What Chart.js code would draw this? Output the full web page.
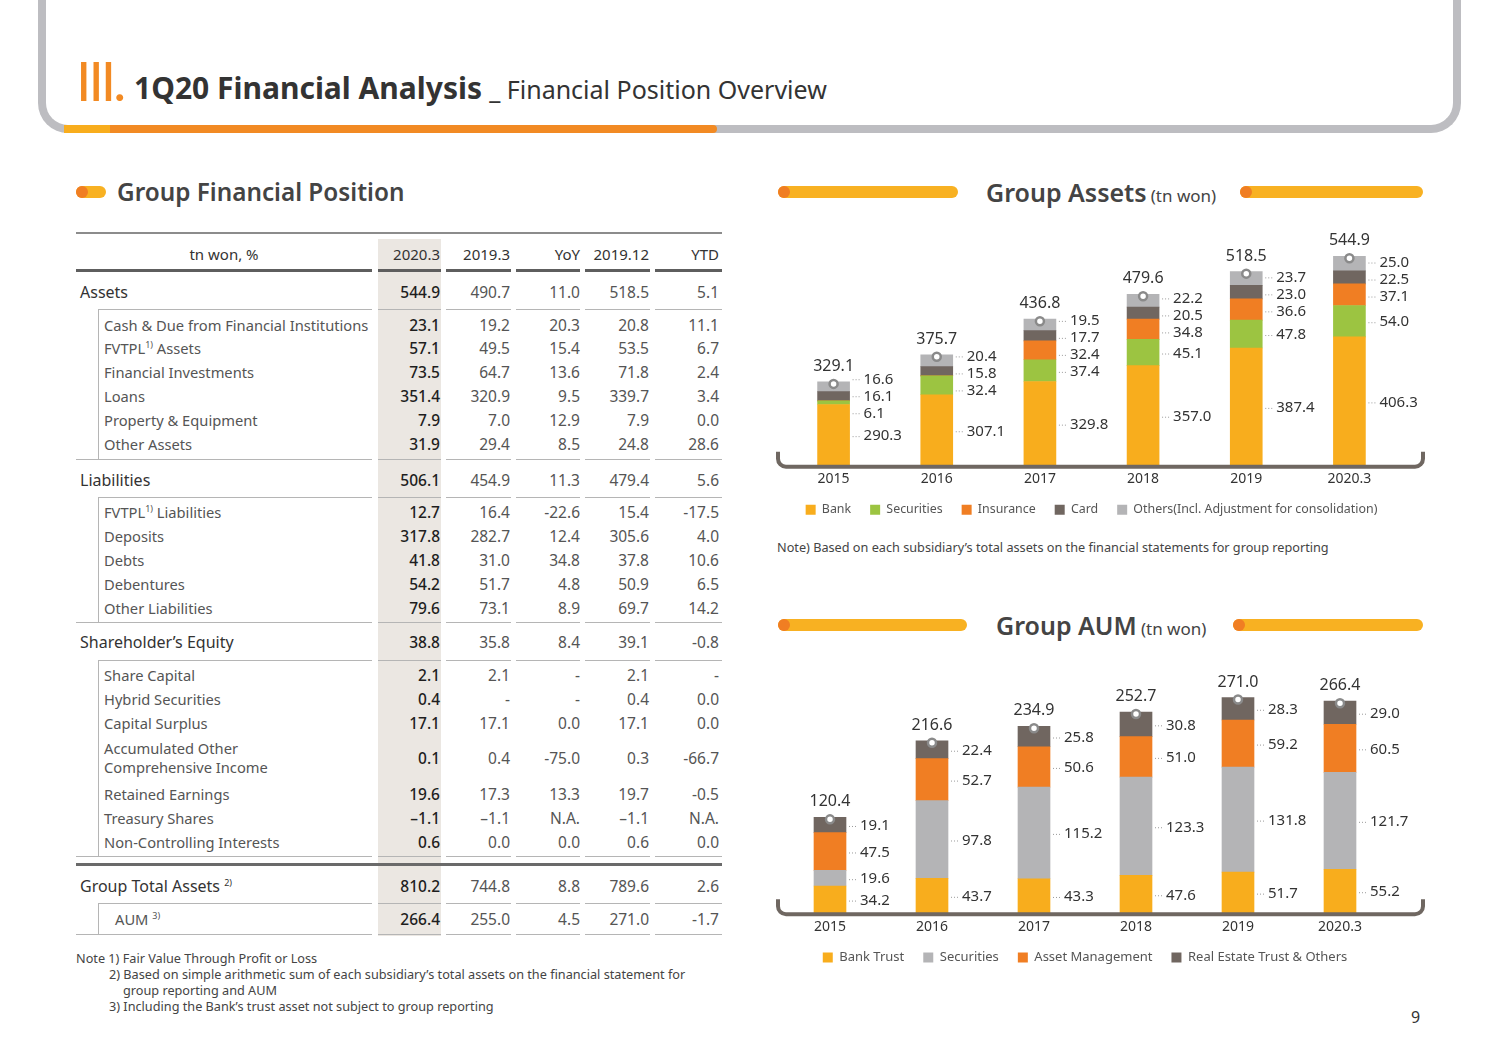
<!DOCTYPE html>
<html>
<head>
<meta charset="utf-8">
<script src="https://cdn.jsdelivr.net/npm/chart.js@4.4.1/dist/chart.umd.min.js"></script>
<style>
  body { margin: 0; width: 1499px; height: 1060px; position: relative; background: #fff; overflow: hidden;
         font-family: "Noto Sans", "Open Sans", sans-serif; color: #333; }
  .abs { position: absolute; white-space: nowrap; }
  sup { font-size: 9px; line-height: 0; position: relative; top: -6px; vertical-align: baseline; }
  .pill { position: absolute; height: 12px; border-radius: 6px; background: #f8b122; }
  .pill::before { content: ""; position: absolute; left: 0; top: 0; width: 12px; height: 12px; border-radius: 6px; background: #f07e23; }
  canvas { position: absolute; }
  .note { position: absolute; white-space: nowrap; font-size: 12.7px; line-height: 16px; color: #444; }
</style>
</head>
<body>

<!-- 상단 헤더 -->
<div class="abs" style="left:38px;top:-20px;width:1407px;height:145px;border:8px solid #bdbdc1;border-top:none;border-radius:0 0 30px 30px;"></div>
<div class="abs" style="left:64px;top:125px;width:653px;height:8px;border-radius:0 4px 4px 0;background:linear-gradient(to right,#f8ad1d 0,#f8ad1d 46px,#f28a23 46px);"></div>
<div class="abs" style="left:76px;top:50px;font-family:Lato,'Noto Sans',sans-serif;font-size:55px;line-height:60px;color:#f28a23;letter-spacing:-3px;">III<span style="letter-spacing:0;">.</span></div>
<div class="abs" style="left:134px;top:68px;line-height:40px;">
  <span style="font-size:30px;font-weight:700;color:#333;">1Q20 Financial Analysis</span>
  <span style="font-size:25px;color:#333;margin-left:3px;">_ Financial Position Overview</span>
</div>

<!-- 섹션 제목 -->
<div class="pill" style="left:76px;top:186px;width:30px;"></div>
<div class="abs" style="left:117px;top:175px;font-size:24.3px;line-height:34px;font-weight:600;color:#444;">Group Financial Position</div>

<div class="pill" style="left:778px;top:186px;width:180px;"></div>
<div class="pill" style="left:1240px;top:186px;width:183px;"></div>
<div class="abs" style="left:986px;top:175px;line-height:34px;color:#444;"><span style="font-size:25px;font-weight:600;">Group Assets</span> <span style="font-size:17px;">(tn won)</span></div>

<div class="pill" style="left:778px;top:619px;width:189px;"></div>
<div class="pill" style="left:1233px;top:619px;width:190px;"></div>
<div class="abs" style="left:996px;top:608px;line-height:34px;color:#444;"><span style="font-size:25px;font-weight:600;">Group AUM</span> <span style="font-size:17px;">(tn won)</span></div>

<div class="note" style="left:777px;top:539px;">Note) Based on each subsidiary’s total assets on the financial statements for group reporting</div>

<div id="table"></div>

<div class="note" style="left:76px;top:950px;">Note 1) Fair Value Through Profit or Loss</div>
<div class="note" style="left:109px;top:966px;">2) Based on simple arithmetic sum of each subsidiary’s total assets on the financial statement for</div>
<div class="note" style="left:123px;top:982px;">group reporting and AUM</div>
<div class="note" style="left:109px;top:998px;">3) Including the Bank’s trust asset not subject to group reporting</div>

<div class="abs" style="left:1411px;top:1006px;font-size:16px;line-height:22px;color:#333;">9</div>

<canvas id="assetsChart" width="660" height="306" style="left:770px;top:220px;"></canvas>
<canvas id="aumChart" width="660" height="314" style="left:770px;top:660px;"></canvas>

<script>
// 표 데이터
const colHeaders = ["2020.3", "2019.3", "YoY", "2019.12", "YTD"];
const rowLabels = ["Assets", "Cash &amp; Due from Financial Institutions", "FVTPL<sup>1)</sup> Assets", "Financial Investments",
  "Loans", "Property &amp; Equipment", "Other Assets", "Liabilities", "FVTPL<sup>1)</sup> Liabilities", "Deposits", "Debts",
  "Debentures", "Other Liabilities", "Shareholder’s Equity", "Share Capital", "Hybrid Securities", "Capital Surplus",
  "Accumulated Other<br>Comprehensive Income", "Retained Earnings", "Treasury Shares", "Non-Controlling Interests",
  "Group Total Assets <sup>2)</sup>", "AUM <sup>3)</sup>"];
const rowIsMain = [1, 0, 0, 0, 0, 0, 0, 1, 0, 0, 0, 0, 0, 1, 0, 0, 0, 0, 0, 0, 0, 1, 0];
const val2020_3 = ["544.9", "23.1", "57.1", "73.5", "351.4", "7.9", "31.9", "506.1", "12.7", "317.8", "41.8", "54.2", "79.6",
  "38.8", "2.1", "0.4", "17.1", "0.1", "19.6", "–1.1", "0.6", "810.2", "266.4"];
const val2019_3 = ["490.7", "19.2", "49.5", "64.7", "320.9", "7.0", "29.4", "454.9", "16.4", "282.7", "31.0", "51.7", "73.1",
  "35.8", "2.1", "-", "17.1", "0.4", "17.3", "–1.1", "0.0", "744.8", "255.0"];
const valYoY = ["11.0", "20.3", "15.4", "13.6", "9.5", "12.9", "8.5", "11.3", "-22.6", "12.4", "34.8", "4.8", "8.9",
  "8.4", "-", "-", "0.0", "-75.0", "13.3", "N.A.", "0.0", "8.8", "4.5"];
const val2019_12 = ["518.5", "20.8", "53.5", "71.8", "339.7", "7.9", "24.8", "479.4", "15.4", "305.6", "37.8", "50.9", "69.7",
  "39.1", "2.1", "0.4", "17.1", "0.3", "19.7", "–1.1", "0.6", "789.6", "271.0"];
const valYTD = ["5.1", "11.1", "6.7", "2.4", "3.4", "0.0", "28.6", "5.6", "-17.5", "4.0", "10.6", "6.5", "14.2",
  "-0.8", "-", "0.0", "0.0", "-66.7", "-0.5", "N.A.", "0.0", "2.6", "-1.7"];

// Group Assets 차트 데이터
const years = ["2015", "2016", "2017", "2018", "2019", "2020.3"];
const assetBank = [290.3, 307.1, 329.8, 357.0, 387.4, 406.3];
const assetSecurities = [6.1, 32.4, 37.4, 45.1, 47.8, 54.0];
const assetInsurance = [0, 0, 32.4, 34.8, 36.6, 37.1];
const assetCard = [16.1, 15.8, 17.7, 20.5, 23.0, 22.5];
const assetOthers = [16.6, 20.4, 19.5, 22.2, 23.7, 25.0];
const assetTotals = [329.1, 375.7, 436.8, 479.6, 518.5, 544.9];

// Group AUM 차트 데이터
const aumBankTrust = [34.2, 43.7, 43.3, 47.6, 51.7, 55.2];
const aumSecurities = [19.6, 97.8, 115.2, 123.3, 131.8, 121.7];
const aumAssetMgmt = [47.5, 52.7, 50.6, 51.0, 59.2, 60.5];
const aumRealEstate = [19.1, 22.4, 25.8, 30.8, 28.3, 29.0];
const aumTotals = [120.4, 216.6, 234.9, 252.7, 271.0, 266.4];

// 표 그리기
function buildTable() {
  const box = document.getElementById("table");
  let html = "";
  const add = (s) => (html += s);
  const segs = [[76, 372], [378, 441], [446, 511], [516, 580], [585, 650], [655, 722]];
  const rights = [440, 510, 580, 649, 719];
  const centers = [292, 325, 348, 372, 396, 420, 444, 480, 512, 536, 560, 584, 608, 642, 675, 699, 723, 758, 794, 818, 842, 886, 919];

  // 2020.3 음영
  add(`<div class="abs" style="left:378px;top:239px;width:63px;height:697px;background:#ebe7e2;"></div>`);
  // 상단선
  add(`<div class="abs" style="left:76px;top:232px;width:646px;height:2px;background:#8c8c8c;"></div>`);

  const hline = (y, from, h, c) => {
    segs.forEach((s, i) => {
      const l = i === 0 ? from : s[0];
      add(`<div class="abs" style="left:${l}px;top:${y}px;width:${s[1] - l}px;height:${h}px;background:${c};"></div>`);
    });
  };
  hline(269, 76, 3, "#5e5e5e");
  [[309, 98], [459, 76], [497, 98], [622, 76], [660, 98], [856, 76], [903, 98], [934, 76]].forEach(([y, f]) => hline(y, f, 1, "#b5b5b5"));
  add(`<div class="abs" style="left:76px;top:863px;width:646px;height:3px;background:#6a6a6a;"></div>`);
  [[309, 459], [497, 622], [660, 856], [903, 934]].forEach(([a, b]) => {
    add(`<div class="abs" style="left:98px;top:${a}px;width:1px;height:${b - a}px;background:#b5b5b5;"></div>`);
  });

  // 헤더
  add(`<div class="abs" style="left:76px;top:243px;width:296px;text-align:center;font-size:15px;line-height:22px;color:#333;">tn won, %</div>`);
  colHeaders.forEach((h, i) => {
    add(`<div class="abs" style="left:${rights[i] - 100}px;top:243px;width:100px;text-align:right;font-size:15px;line-height:22px;color:#333;">${h}</div>`);
  });

  const cols = [val2020_3, val2019_3, valYoY, val2019_12, valYTD];
  rowLabels.forEach((lab, r) => {
    const main = rowIsMain[r] === 1;
    const x = main ? 80 : (r === rowLabels.length - 1 ? 115 : 104);
    const two = lab.indexOf("<br>") >= 0;
    const lh = two ? 19 : 22;
    const top = centers[r] - (two ? 19 : 11);
    add(`<div class="abs" style="left:${x}px;top:${top}px;font-size:${main ? 16 : 14.7}px;line-height:${lh}px;color:${main ? "#333" : "#555"};">${lab}</div>`);
    cols.forEach((c, i) => {
      const st = i === 0 ? "color:#1e1e1e;font-weight:500;" : "color:#555;";
      add(`<div class="abs" style="left:${rights[i] - 100}px;top:${centers[r] - 11}px;width:100px;text-align:right;font-size:15.5px;line-height:22px;${st}">${c[r]}</div>`);
    });
  });
  box.innerHTML = html;
}
buildTable();

// 막대 옆 값 라벨, 합계, 축 괄호 그리기
const stackDecor = {
  id: "stackDecor",
  afterDatasetsDraw(chart, args, opts) {
    const ctx = chart.ctx;
    const area = chart.chartArea;
    const totals = opts.totals;

    // 괄호 모양 축선
    const x0 = opts.axisLeft, x1 = opts.axisRight, yb = area.bottom + 1, r = 8;
    ctx.save();
    ctx.strokeStyle = "#6f6761";
    ctx.lineWidth = 4;
    ctx.beginPath();
    ctx.moveTo(x0, yb - 15);
    ctx.arcTo(x0, yb, x0 + r, yb, r);
    ctx.lineTo(x1 - r, yb);
    ctx.arcTo(x1, yb, x1, yb - 15, r);
    ctx.lineTo(x1, yb - 15);
    ctx.stroke();
    ctx.restore();

    chart.data.labels.forEach((_, i) => {
      const items = [];
      let topY = area.bottom, cx = 0, right = 0;
      chart.data.datasets.forEach((ds, di) => {
        const bar = chart.getDatasetMeta(di).data[i];
        cx = bar.x;
        right = bar.x + bar.width / 2;
        const v = ds.data[i];
        if (!v) return;
        const t = bar.y, b = Math.min(bar.base, area.bottom);
        topY = Math.min(topY, t);
        items.push({ y: (t + b) / 2 + 1, text: v.toFixed(1) });
      });
      items.reverse();
      // 라벨 겹침 방지
      const gap = opts.gap;
      for (let k = 0; k < 80; k++) {
        for (let j = 1; j < items.length; j++) {
          const d = items[j].y - items[j - 1].y;
          if (d < gap) {
            const m = (gap - d) / 2;
            items[j - 1].y -= m;
            items[j].y += m;
          }
        }
      }
      ctx.save();
      ctx.font = "15px 'Noto Sans'";
      ctx.fillStyle = "#333";
      ctx.textBaseline = "middle";
      ctx.strokeStyle = "#9a9a9a";
      ctx.lineWidth = 1;
      ctx.setLineDash([1, 2]);
      items.forEach((it) => {
        ctx.beginPath();
        ctx.moveTo(right + 3, it.y + 0.5);
        ctx.lineTo(right + 12, it.y + 0.5);
        ctx.stroke();
        ctx.fillText(it.text, right + 14, it.y);
      });
      ctx.setLineDash([]);
      // 합계
      ctx.font = "16px 'Noto Sans'";
      ctx.textAlign = "center";
      ctx.textBaseline = "alphabetic";
      ctx.fillText(totals[i].toFixed(1), cx, topY - 11);
      ctx.beginPath();
      ctx.arc(cx, topY + 2, 4, 0, Math.PI * 2);
      ctx.fillStyle = "#fff";
      ctx.fill();
      ctx.strokeStyle = "#8a8a8a";
      ctx.lineWidth = 2.5;
      ctx.stroke();
      ctx.restore();
    });
  },
};

function makeOptions(yMin, yMax, padLeft, padRight, padTop, legendSize, totals) {
  return {
    responsive: false,
    animation: false,
    layout: { padding: { left: padLeft, right: padRight, top: padTop } },
    scales: {
      x: {
        stacked: true,
        grid: { display: false },
        border: { display: false },
        ticks: { color: "#333", font: { size: 14, family: "Noto Sans" }, padding: -3 },
      },
      y: { stacked: true, display: false, min: yMin, max: yMax },
    },
    plugins: {
      legend: {
        position: "bottom",
        labels: { boxWidth: 10, boxHeight: 10, color: "#555", font: { size: legendSize, family: "Noto Sans" }, padding: 19 },
      },
      tooltip: { enabled: false },
      stackDecor: { totals: totals, axisLeft: 8, axisRight: 653, gap: 17 },
    },
  };
}

function bar(label, data, color) {
  return { label: label, data: data, backgroundColor: color, borderWidth: 0, barThickness: 32, clip: 0 };
}

new Chart(document.getElementById("assetsChart").getContext("2d"), {
  type: "bar",
  data: {
    labels: years,
    datasets: [
      bar("Bank", assetBank, "#f8ad1d"),
      bar("Securities", assetSecurities, "#9cc441"),
      bar("Insurance", assetInsurance, "#f07e23"),
      bar("Card", assetCard, "#706660"),
      bar("Others(Incl. Adjustment for consolidation)", assetOthers, "#b4b4b6"),
    ],
  },
  options: makeOptions(185, 590, 12, 29, 10, 12.4, assetTotals),
  plugins: [stackDecor],
});

new Chart(document.getElementById("aumChart").getContext("2d"), {
  type: "bar",
  data: {
    labels: years,
    datasets: [
      bar("Bank Trust", aumBankTrust, "#f8ad1d"),
      bar("Securities", aumSecurities, "#b4b4b6"),
      bar("Asset Management", aumAssetMgmt, "#f07e23"),
      bar("Real Estate Trust & Others", aumRealEstate, "#706660"),
    ],
  },
  options: makeOptions(0, 293, 9, 39, 20, 13, aumTotals),
  plugins: [stackDecor],
});
</script>
</body>
</html>
